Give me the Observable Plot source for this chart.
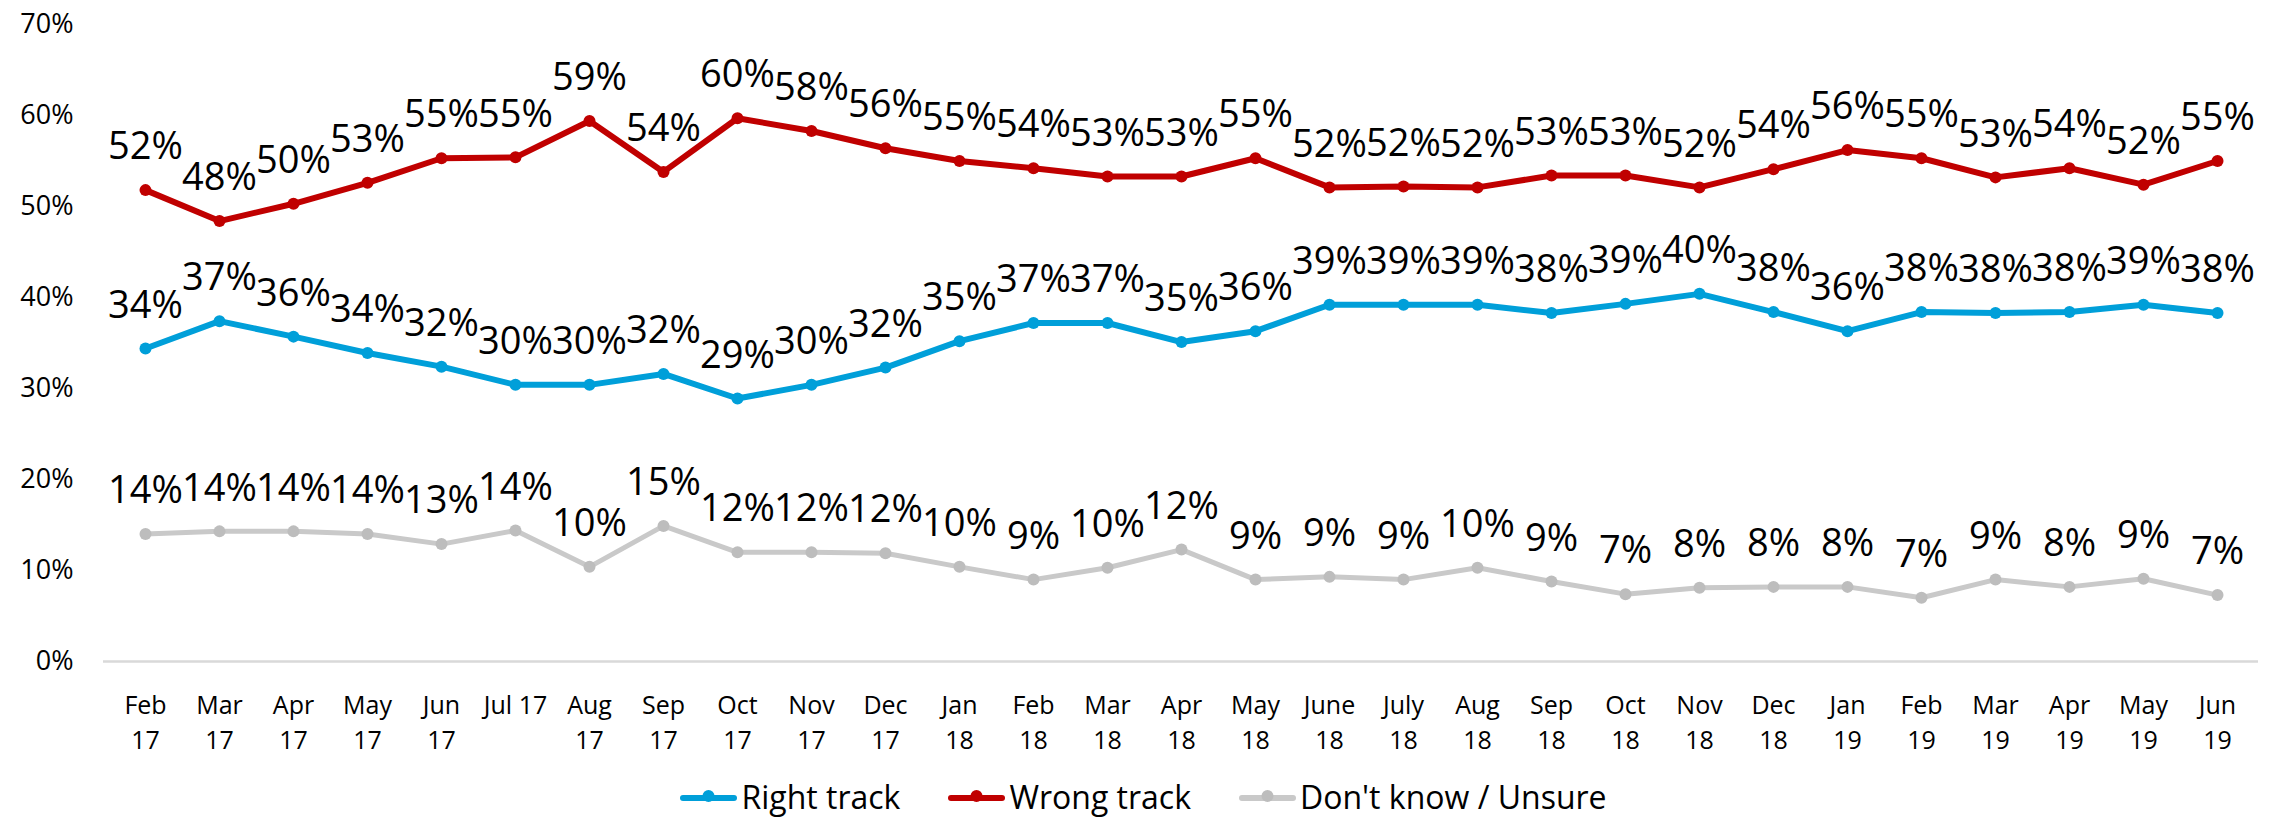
<!DOCTYPE html>
<html><head><meta charset="utf-8">
<script src="https://cdn.jsdelivr.net/npm/d3@7"></script>
<script src="https://cdn.jsdelivr.net/npm/@observablehq/plot@0.6"></script>
<style>
html,body{margin:0;padding:0;background:#fff;overflow:hidden;}
#legend{position:absolute;left:0;top:773px;width:2287px;height:46px;display:flex;justify-content:center;align-items:center;gap:48px;font-family:'Open Sans',sans-serif;font-size:32px;color:#000;}
.item{display:flex;align-items:center;gap:4px;white-space:nowrap;}
</style></head><body>
<div id="chart"></div><div id="legend"></div>
<script>
const categories = ["Feb 17","Mar 17","Apr 17","May 17","Jun 17","Jul 17","Aug 17","Sep 17","Oct 17","Nov 17","Dec 17","Jan 18","Feb 18","Mar 18","Apr 18","May 18","June 18","July 18","Aug 18","Sep 18","Oct 18","Nov 18","Dec 18","Jan 19","Feb 19","Mar 19","Apr 19","May 19","Jun 19"];
const rightTrack = [34.4,37.4,35.7,33.9,32.4,30.4,30.4,31.6,28.9,30.4,32.3,35.2,37.2,37.2,35.1,36.3,39.2,39.2,39.2,38.3,39.3,40.4,38.4,36.3,38.4,38.3,38.4,39.2,38.3];
const wrongTrack = [51.8,48.4,50.3,52.6,55.3,55.4,59.4,53.8,59.7,58.3,56.4,55.0,54.2,53.3,53.3,55.3,52.1,52.2,52.1,53.4,53.4,52.1,54.1,56.2,55.3,53.2,54.2,52.4,55.0];
const dontKnow = [14.0,14.3,14.3,14.0,12.9,14.4,10.4,14.9,12.0,12.0,11.9,10.4,9.0,10.3,12.3,9.0,9.3,9.0,10.3,8.8,7.4,8.1,8.2,8.2,7.0,9.0,8.2,9.1,7.3];
const seriesNames = ["Right track","Wrong track","Don't know / Unsure"];
const yTicks = [0,10,20,30,40,50,60,70];
const singleLineTicks = ["Jul 17"];

const series = [
  {name: seriesNames[0], values: rightTrack, line: "#009fd9", dot: "#009fd9", sw: 6},
  {name: seriesNames[1], values: wrongTrack, line: "#c00000", dot: "#c00000", sw: 6},
  {name: seriesNames[2], values: dontKnow, line: "#c9c9c9", dot: "#bdbdbd", sw: 5}
];

const marks = [Plot.ruleY([0], {stroke: "#d9d9d9", strokeWidth: 2.5})];
for (const s of series) {
  const rows = categories.map((c, i) => ({cat: c, value: s.values[i]}));
  marks.push(Plot.line(rows, {x: "cat", y: "value", stroke: s.line, strokeWidth: s.sw, strokeLinejoin: "round", strokeLinecap: "round"}));
  marks.push(Plot.dot(rows, {x: "cat", y: "value", r: 6, fill: s.dot}));
}
for (const s of series) {
  const rows = categories.map((c, i) => ({cat: c, value: s.values[i]}));
  marks.push(Plot.text(rows, {x: "cat", y: "value", text: d => Math.round(d.value) + "%", dy: -43, fontSize: 38, fill: "#000", lineAnchor: "middle"}));
}
marks.push(Plot.axisY({ticks: yTicks, tickFormat: d => d + "%", tickSize: 0, tickPadding: 30, fontSize: 27, fill: "#000", label: null}));
marks.push(Plot.axisX({tickSize: 0, tickPadding: 28, fontSize: 25, lineHeight: 1.4, fill: "#000", label: null,
  tickFormat: d => singleLineTicks.includes(d) ? d : d.replace(" ", "\n")}));

const chart = Plot.plot({
  width: 2287, height: 770,
  marginLeft: 103, marginRight: 29, marginTop: 24, marginBottom: 109,
  style: {fontFamily: "'Open Sans', sans-serif", background: "#fff", color: "#000"},
  x: {type: "point", domain: categories, padding: 0.5},
  y: {domain: [0, 70]},
  marks
});
document.getElementById("chart").appendChild(chart);

const legend = document.getElementById("legend");
for (const s of series) {
  const item = document.createElement("div");
  item.className = "item";
  item.innerHTML = `<svg width="57" height="20"><line x1="3" y1="12" x2="54" y2="12" stroke="${s.line}" stroke-width="6" stroke-linecap="round"/><circle cx="28.5" cy="10" r="6" fill="${s.dot}"/></svg><span>${s.name}</span>`;
  legend.appendChild(item);
}
</script></body></html>
